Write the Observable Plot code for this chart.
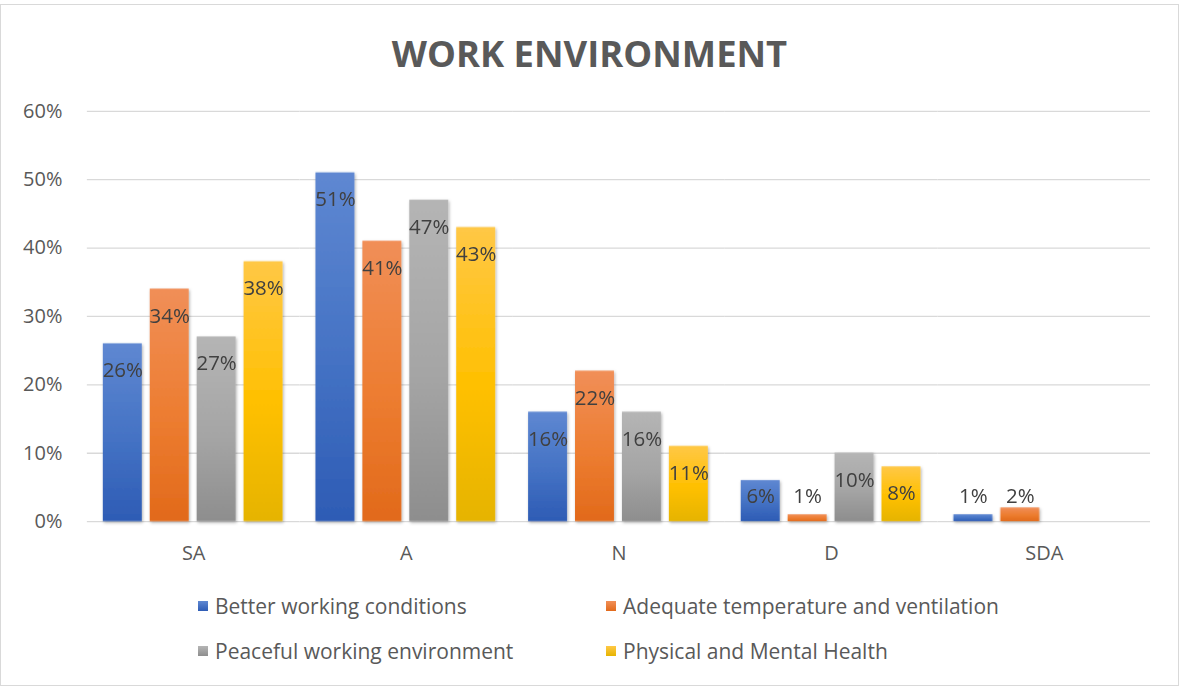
<!DOCTYPE html>
<html>
<head>
<meta charset="utf-8">
<script src="https://cdn.jsdelivr.net/npm/d3@7"></script>
<script src="https://cdn.jsdelivr.net/npm/@observablehq/plot@0.6"></script>
<style>
  html, body { margin: 0; padding: 0; background: #fff; }
  #wrap { position: relative; width: 1177px; height: 680px; margin-top: 4px; border: 1px solid #d9d9d9; font-family: "Open Sans", Lato, sans-serif; overflow: hidden; }
  #title { position: absolute; left: 0; right: 0; top: 23px; text-align: center; font-size: 36.4px; font-weight: bold; color: #595959; }
  #chart { position: absolute; left: 0; top: -5px; }
  .leg { position: absolute; font-size: 21px; color: #595959; display: flex; align-items: center; white-space: nowrap; line-height: 26px; }
  .sw { width: 10px; height: 10px; margin-right: 7px; }
</style>
</head>
<body>
<div id="wrap">
  <div id="title">WORK ENVIRONMENT</div>
  <div id="chart"></div>
  <div id="legend"></div>
</div>
<script>
const categories = ["SA", "A", "N", "D", "SDA"];
const seriesNames = ["Better working conditions", "Adequate temperature and ventilation", "Peaceful working environment", "Physical and Mental Health"];
const betterWorking = [26, 51, 16, 6, 1];
const adequateTemp = [34, 41, 22, 1, 2];
const peacefulEnv = [27, 47, 16, 10, null];
const physicalMental = [38, 43, 11, 8, null];
const yTicks = [0, 10, 20, 30, 40, 50, 60];

const seriesValues = [betterWorking, adequateTemp, peacefulEnv, physicalMental];
const gradIds = ["gBlue", "gOrange", "gGray", "gGold"];
const gradStops = [
  ["#5F88D2", "#4472C4", "#2E5CB5"],
  ["#F18F58", "#ED7D31", "#E26A1B"],
  ["#B5B5B5", "#A5A5A5", "#8E8E8E"],
  ["#FFC846", "#FFC000", "#E6B400"]
];

const data = [];
seriesNames.forEach((s, si) => {
  categories.forEach((c, ci) => {
    const v = seriesValues[si][ci];
    if (v != null) data.push({cat: c, series: s, value: v, si});
  });
});

const barMarks = seriesNames.map((s, si) =>
  Plot.barY(data.filter(d => d.si === si), {fx: "cat", x: "series", y: "value", fill: `url(#${gradIds[si]})`})
);

const fontFam = "'Open Sans', Lato, sans-serif";
const labelFont = {fontSize: 20.5, fill: "#404040", fontFamily: fontFam};

const plot = Plot.plot({
  width: 1179,
  height: 580,
  marginLeft: 85,
  marginRight: 28,
  marginTop: 111,
  marginBottom: 58,
  style: {fontFamily: fontFam, fontSize: "20px", color: "#595959", background: "transparent"},
  fx: {domain: categories, padding: 0, label: null, axis: "bottom", tickSize: 0, tickPadding: 24},
  x: {domain: seriesNames, paddingInner: 0.17, paddingOuter: 0.34, axis: null},
  y: {domain: [0, 60], ticks: yTicks, tickFormat: d => d + "%", label: null, tickSize: 0, tickPadding: 25},
  marks: [
    Plot.ruleY(yTicks, {stroke: "#d9d9d9", strokeWidth: 1.3}),
    ...barMarks,
    Plot.text(data.filter(d => d.value >= 8), {fx: "cat", x: "series", y: "value", text: d => d.value + "%", dy: 27, ...labelFont}),
    Plot.text(data.filter(d => d.value < 8), {fx: "cat", x: "series", y: 0, text: d => d.value + "%", dy: -25, ...labelFont})
  ]
});

const svg = d3.select(plot);
const defs = svg.insert("defs", ":first-child");
gradIds.forEach((id, i) => {
  const g = defs.append("linearGradient").attr("id", id).attr("x1", 0).attr("y1", 0).attr("x2", 0).attr("y2", 1);
  g.append("stop").attr("offset", "0%").attr("stop-color", gradStops[i][0]);
  g.append("stop").attr("offset", "55%").attr("stop-color", gradStops[i][1]);
  g.append("stop").attr("offset", "100%").attr("stop-color", gradStops[i][2]);
});
const f = defs.append("filter").attr("id", "shadow").attr("x", "-20%").attr("y", "-20%").attr("width", "140%").attr("height", "140%");
f.append("feDropShadow").attr("dx", 1).attr("dy", 1.5).attr("stdDeviation", 1.8).attr("flood-color", "#000").attr("flood-opacity", 0.3);
svg.selectAll("g[aria-label='bar']").attr("filter", "url(#shadow)");

document.getElementById("chart").appendChild(plot);

const legendPos = [[197, 601], [605, 601], [197, 646], [605, 646]];
const leg = document.getElementById("legend");
seriesNames.forEach((s, i) => {
  const el = document.createElement("div");
  el.className = "leg";
  el.style.left = legendPos[i][0] + "px";
  el.style.top = (legendPos[i][1] - 13) + "px";
  el.innerHTML = `<span class="sw" style="background:linear-gradient(${gradStops[i][0]}, ${gradStops[i][2]})"></span>${s}`;
  leg.appendChild(el);
});
</script>
</body>
</html>
